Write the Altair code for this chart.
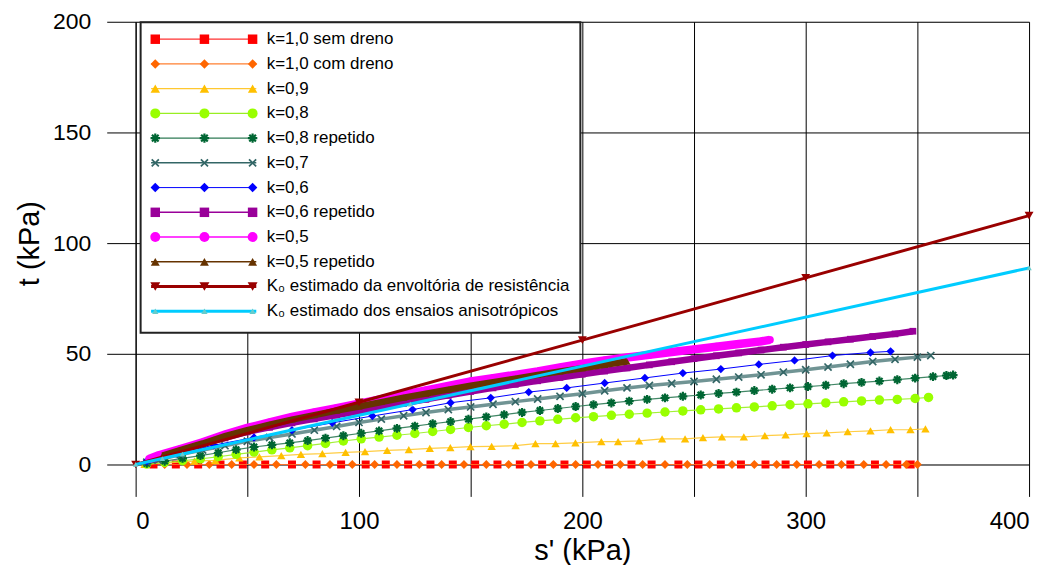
import altair as alt
import pandas as pd

# ---------------- data ----------------
sem_dreno_s = [8, 18, 28, 38, 48, 58, 70, 81, 92, 103, 112, 122, 132, 142, 152, 162, 172, 182,
               192, 202, 212, 222, 231, 243, 252, 262, 271, 282, 291, 301, 311, 320, 331, 341, 347]
sem_dreno_t = [0] * len(sem_dreno_s)

com_dreno_s = [13, 23, 33, 43, 53, 63, 76, 87, 97, 107, 117, 127, 137, 147, 157, 167, 177, 187,
               197, 207, 217, 227, 237, 247, 257, 267, 277, 287, 296, 306, 316, 326, 336, 345, 350]
com_dreno_t = [0] * len(com_dreno_s)

k09_s = [4, 26.3, 35.7, 46.4, 55.4, 65.2, 74, 83.6, 94, 102.7, 112.6, 122.3, 131.7, 140.9, 149.9,
         159.4, 170.1, 179, 188, 196.9, 208.5, 216, 225.4, 235.7, 246, 254, 262.5, 272.3, 281.7,
         291, 300.4, 309.4, 318.8, 329, 338, 346.9, 353.6]
k09_t = [0, 1.5, 1.9, 3.0, 3.4, 4.0, 4.6, 4.9, 5.5, 5.8, 6.4, 6.7, 7.3, 7.6, 8.1,
         8.2, 8.5, 9.4, 9.4, 9.8, 10.3, 10.3, 10.7, 11.6, 11.6, 12.1, 12.5, 12.5, 13.0,
         13.4, 13.9, 14.3, 14.8, 15.2, 15.7, 15.7, 16.1]

k08_s = [5, 13, 21, 29, 37, 45, 53, 61, 69, 77, 85, 93, 101, 109, 117, 125, 133, 141, 149, 157,
         165, 173, 181, 189, 197, 205, 213, 221, 229, 237, 245, 253, 261, 269, 277, 285, 293, 301,
         309, 317, 325, 333, 341, 349, 355]
k08_t = [0.2, 0.9, 1.7, 2.5, 3.5, 4.6, 5.6, 6.6, 7.5, 8.5, 9.5, 10.6, 11.6, 12.4, 13.2, 14.0, 14.9,
         15.8, 16.7, 17.5, 18.2, 19.0, 19.7, 20.4, 21.1, 21.6, 22.2, 22.7, 23.2, 23.7, 24.2, 24.7,
         25.1, 25.6, 26.0, 26.5, 27.0, 27.4, 27.8, 28.3, 28.7, 29.1, 29.4, 29.8, 30.3]

k08r_s = [5, 13, 21, 29, 37, 45, 53, 61, 69, 77, 85, 93, 101, 109, 117, 125, 133, 141, 149, 157,
          165, 173, 181, 189, 197, 205, 213, 221, 229, 237, 245, 253, 261, 269, 277, 285, 293, 301,
          309, 317, 325, 333, 341, 349, 357, 363, 366]
k08r_t = [0.5, 1.5, 2.8, 4.0, 5.3, 6.7, 7.9, 8.9, 9.8, 10.8, 11.9, 13.0, 14.1, 15.2, 16.3, 17.3,
          18.4, 19.4, 20.5, 21.5, 22.5, 23.5, 24.4, 25.3, 26.2, 27.0, 27.8, 28.6, 29.4, 30.1, 30.8,
          31.4, 32.1, 32.7, 33.4, 34.0, 34.6, 35.2, 35.8, 36.5, 37.1, 37.7, 38.3, 39.0, 39.7, 40.2,
          40.4]

k07_s = [5, 10, 20, 30, 40, 50, 60, 70, 80, 90, 100, 110, 120, 130, 140, 150, 160, 170, 180, 190,
         200, 210, 220, 230, 240, 250, 260, 270, 280, 290, 300, 310, 320, 330, 340, 350, 356]
k07_t = [1, 2, 4.5, 6.5, 8.5, 10.5, 12.2, 13.8, 15.5, 17.2, 19, 20.5, 22, 23.5, 24.8, 26, 27.2,
         28.4, 29.6, 30.8, 32, 33.3, 34.6, 35.7, 36.6, 37.5, 38.5, 39.5, 40.5, 41.7, 42.8, 44,
         45.3, 46.5, 47.5, 48.5, 49.2]

k06_s = [5, 18, 35, 53, 70, 88, 106, 124, 141, 159, 176, 193, 210, 228, 245, 262, 279, 295, 312,
         329, 338]
k06_t = [1.5, 5, 8.7, 12.2, 15.5, 18.8, 21.9, 24.8, 27.9, 30.1, 32.7, 34.6, 36.8, 39.1, 41.3,
         43.1, 45.2, 47, 49.2, 50.6, 51.1]

k06r_s = [8, 20, 30, 40, 50, 60, 70, 80, 90, 100, 110, 120, 130, 140, 150, 160, 170, 180, 190,
          200, 210, 220, 230, 240, 250, 260, 270, 280, 290, 300, 310, 320, 330, 340, 348]
k06r_t = [2.5, 6.5, 9.3, 12, 14.7, 16.8, 18.8, 20.6, 22.3, 24, 25.8, 27.6, 29.4, 31.2, 33, 34.6,
          36.2, 37.8, 39.3, 40.8, 42.2, 43.6, 45, 46.4, 47.8, 49.1, 50.4, 51.7, 53, 54.2, 55.4,
          56.6, 57.8, 59, 60.2]

k05_s = [6, 10, 20, 30, 40, 50, 60, 70, 80, 90, 100, 110, 120, 130, 140, 150, 160, 170, 180, 190,
         200, 210, 220, 230, 240, 250, 260, 270, 280, 284]
k05_t = [2.5, 4, 7, 10, 13.5, 16.5, 19, 21.5, 23.5, 25.5, 27.5, 29.5, 31.5, 33.5, 35.5, 37.5, 39,
         40.5, 42, 43.8, 45.5, 47, 48.3, 49.5, 50.8, 52, 53.2, 54.4, 55.6, 56.3]

k05r_s = [12, 20, 30, 40, 50, 60, 70, 80, 90, 100, 110, 120, 130, 140, 150, 160, 170, 180, 190,
          200, 210, 220]
k05r_t = [4, 6.5, 9.5, 12.8, 15.5, 18, 20.3, 22.3, 24.3, 26.2, 28.2, 30.2, 32, 33.8, 35.6, 37.2,
          38.8, 40.5, 42, 43.5, 45, 46.5]

k0env_s = [0, 100, 200, 300, 400]
k0env_t = [0, 28.1, 56.2, 84.3, 112.4]

k0ani_s = [0, 12, 21, 123, 400]
k0ani_t = [0, 2.7, 4.7, 27.3, 88.8]

labels = ["k=1,0 sem dreno", "k=1,0 com dreno", "k=0,9", "k=0,8", "k=0,8 repetido", "k=0,7",
          "k=0,6", "k=0,6 repetido", "k=0,5", "k=0,5 repetido",
          "K\u2080 estimado da envoltória de resistência",
          "K\u2080 estimado dos ensaios anisotrópicos"]

x_ticks = [0, 50, 100, 150, 200, 250, 300, 350, 400]
y_ticks = [0, 50, 100, 150, 200]

# ---------------- styles ----------------
ASTERISK = "M-1,0L1,0M0,-1L0,1M-0.7,-0.7L0.7,0.7M-0.7,0.7L0.7,-0.7"
XMARK = "M-0.8,-0.8L0.8,0.8M-0.8,0.8L0.8,-0.8"

# (s, t, marker colour, line colour, line width, line opacity, shape, size, filled, marker stroke, legend size)
series = [
    (sem_dreno_s, sem_dreno_t, "#FF0000", "#FF3030", 1.2, 0.8, "square", 64, True, 1, 90),
    (com_dreno_s, com_dreno_t, "#FF6600", "#FF7F30", 1.2, 0.8, "diamond", 80, True, 1, 90),
    (k09_s, k09_t, "#FFC000", "#FFC830", 1.2, 0.9, "triangle-up", 70, True, 1, 90),
    (k08_s, k08_t, "#99FF00", "#99EE22", 1.2, 0.9, "circle", 90, True, 1, 100),
    (k08r_s, k08r_t, "#006633", "#2E7A55", 1.2, 0.9, ASTERISK, 80, False, 2.2, 90),
    (k07_s, k07_t, "#336666", "#336666", 3.5, 0.7, XMARK, 80, False, 1.7, 80),
    (k06_s, k06_t, "#0000FF", "#0000FF", 1, 1, "diamond", 70, True, 1, 90),
    (k06r_s, k06r_t, "#990099", "#990099", 6.5, 1, "square", 45, True, 1, 90),
    (k05_s, k05_t, "#FF00FF", "#FF00FF", 8.5, 1, "circle", 60, True, 1, 100),
    (k05r_s, k05r_t, "#663300", "#663300", 6.5, 1, "triangle-up", 50, True, 1, 80),
    (k0env_s, k0env_t, "#990000", "#990000", 3, 1, "triangle-down", 80, True, 1, 100),
    (k0ani_s, k0ani_t, "#66CCCC", "#00CCFF", 3, 1, "triangle-up", 30, True, 1, 40),
]

FONT = "Liberation Sans"
W, H = 896, 444
XMAX, YMAX = 400, 200

xscale = alt.Scale(domain=[0, XMAX], nice=False, zero=True)
yscale = alt.Scale(domain=[0, YMAX], nice=False, zero=True)
xaxis = alt.Axis(title="s' (kPa)", values=x_ticks,
                 labelExpr="datum.value % 100 === 0 ? datum.label : ''",
                 tickSize=32, domain=False, grid=True, gridColor="#000000", gridWidth=1,
                 tickColor="#000000", labelFont=FONT, titleFont=FONT, labelFontSize=24,
                 titleFontSize=29, titleFontWeight="normal", labelColor="black",
                 titleColor="black", labelPadding=13, titlePadding=3)
yaxis = alt.Axis(title="t (kPa)", values=y_ticks, tickSize=29, domain=True,
                 domainColor="#000000", grid=True, gridColor="#000000", gridWidth=1,
                 tickColor="#000000", labelFont=FONT, titleFont=FONT, labelFontSize=23,
                 titleFontSize=29, titleFontWeight="normal", labelColor="black",
                 titleColor="black", labelPadding=16, titlePadding=8)


def X(field):
    return alt.X(field, type="quantitative", scale=xscale, axis=xaxis)


def Y(field):
    return alt.Y(field, type="quantitative", scale=yscale, axis=yaxis)


layers = []
for (s, t, mc, lc, lw, lo, shape, size, filled, sw, lsz) in series:
    df = pd.DataFrame({"s": s, "t": t})
    base = alt.Chart(df)
    layers.append(base.mark_line(color=lc, strokeWidth=lw, opacity=lo).encode(x=X("s"), y=Y("t")))
    layers.append(base.mark_point(shape=shape, size=size, filled=filled, color=mc, opacity=1,
                                  strokeWidth=sw).encode(x=X("s"), y=Y("t")))

# ---------------- legend (layout in pixels of the plot area, mapped to data units) ----------------
def px_to_s(px):
    return px * XMAX / W


def py_to_t(py):
    return YMAX - py * YMAX / H


box = pd.DataFrame({"x0": [px_to_s(5)], "x1": [px_to_s(446)],
                    "y0": [py_to_t(0.5)], "y1": [py_to_t(312)]})
layers.append(alt.Chart(box).mark_rect(fill="white", stroke="#222222", strokeWidth=2).encode(
    x=X("x0"), x2="x1", y=Y("y0"), y2="y1"))

ROW0, STEP = 17.5, 24.8
for i, (s, t, mc, lc, lw, lo, shape, size, filled, sw, lsz) in enumerate(series):
    ty = py_to_t(ROW0 + STEP * i)
    seg = pd.DataFrame({"lx": [px_to_s(15.5), px_to_s(121)], "ly": [ty, ty]})
    llw = min(lw, 3) if i >= 10 else min(lw, 1.5)
    layers.append(alt.Chart(seg).mark_line(color=lc, strokeWidth=llw, opacity=1).encode(
        x=X("lx"), y=Y("ly")))
    pts = pd.DataFrame({"lx": [px_to_s(19.7), px_to_s(69), px_to_s(117.3)], "ly": [ty] * 3})
    layers.append(alt.Chart(pts).mark_point(shape=shape, size=lsz, filled=filled, color=mc,
                                            opacity=1, strokeWidth=sw).encode(
        x=X("lx"), y=Y("ly")))

txt = pd.DataFrame({"label": labels,
                    "tx": [px_to_s(131.5)] * len(labels),
                    "ty": [py_to_t(ROW0 + STEP * i) for i in range(len(labels))]})
layers.append(alt.Chart(txt).mark_text(align="left", baseline="middle", font=FONT, fontSize=17,
                                       color="black").encode(x=X("tx"), y=Y("ty"), text="label:N"))

chart = alt.layer(*layers).properties(
    width=W, height=H,
    autosize=alt.AutoSizeParams(type="none"),
    padding={"left": 128, "top": 13, "right": 20, "bottom": 100},
).configure_view(strokeWidth=0).configure(background="white")

chart.save("out.html", embed_options={"renderer": "svg", "actions": False})
